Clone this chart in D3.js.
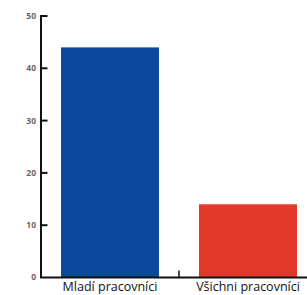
<!DOCTYPE html>
<html lang="cs">
<head>
	<meta charset="UTF-8">
	<title>Pracovníci</title>
	<script src="https://cdn.jsdelivr.net/npm/d3@7"></script>
	<style>
		body { margin: 0; background: #fff; }
		.ylab { font-family: "Open Sans", sans-serif; font-size: 8.5px; font-weight: bold; fill: #666; }
		.xlab { font-family: "Open Sans", sans-serif; font-size: 12.5px; fill: #111; }
	</style>
</head>
<body>
	<div id="container"></div>
	<script>
		var categories = ["Mladí pracovníci", "Všichni pracovníci"];
		var values = [44, 14];
		var colors = ["#0b4a9b", "#e2382a"];
		var yTicks = [0, 10, 20, 30, 40, 50];

		var width = 307, height = 295;
		var svg = d3.select("#container").append("svg")
				.attr("width", width)
				.attr("height", height);

		var x = d3.scaleBand()
				.domain(categories)
				.range([41, 317])
				.paddingInner(0.29)
				.paddingOuter(0.145);

		var y = d3.scaleLinear()
				.domain([0, 50])
				.range([277.5, 16]);

		var x0 = x.range()[0];

		// bars
		svg.selectAll(".bar").data(values)
			.enter().append("rect")
				.attr("class", "bar")
				.attr("x", (d, i) => x(categories[i]))
				.attr("y", d => y(d))
				.attr("width", x.bandwidth())
				.attr("height", d => y(0) - y(d))
				.attr("fill", (d, i) => colors[i]);

		// y axis: line + inward ticks
		svg.append("rect")
			.attr("x", x0 - 1).attr("y", y(50) - 1)
			.attr("width", 2).attr("height", y(0) - y(50) + 1)
			.attr("fill", "#111");

		svg.selectAll(".ytick").data(yTicks.filter(d => d > 0))
			.enter().append("rect")
				.attr("class", "ytick")
				.attr("x", x0)
				.attr("y", d => y(d) - 1)
				.attr("width", 6.5)
				.attr("height", 2)
				.attr("fill", "#111");

		svg.selectAll(".ylab").data(yTicks)
			.enter().append("text")
				.attr("class", "ylab")
				.attr("x", x0 - 5)
				.attr("y", d => y(d))
				.attr("dy", "0.35em")
				.attr("text-anchor", "end")
				.text(d => d);

		// x axis
		svg.append("rect")
			.attr("x", x0 - 1).attr("y", y(0) - 1)
			.attr("width", width - x0 + 1).attr("height", 2)
			.attr("fill", "#111");

		// separator tick between the categories
		var sep = x0 + x.step();
		svg.append("rect")
			.attr("x", sep - 0.75).attr("y", y(0) - 7)
			.attr("width", 1.5).attr("height", 7)
			.attr("fill", "#111");

		svg.selectAll(".xlab").data(categories)
			.enter().append("text")
				.attr("class", "xlab")
				.attr("x", d => x(d) + x.bandwidth() / 2)
				.attr("y", 290.5)
				.attr("text-anchor", "middle")
				.text(d => d);
	</script>
</body>
</html>
